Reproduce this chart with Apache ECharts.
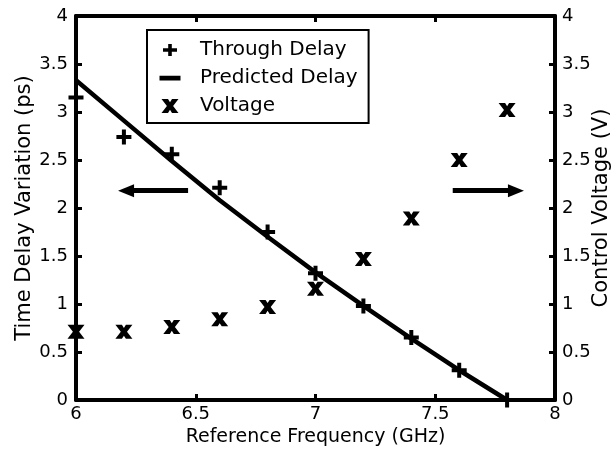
<!DOCTYPE html>
<html>
<head>
<meta charset="utf-8">
<script src="https://cdn.jsdelivr.net/npm/echarts@6/dist/echarts.min.js"></script>
<style>
html,body{margin:0;padding:0;background:#fff;}
#chart{width:616px;height:450px;}
</style>
</head>
<body>
<div id="chart"></div>
<script>
// ---- data ----
const freq = [6.0, 6.2, 6.4, 6.6, 6.8, 7.0, 7.2, 7.4, 7.6, 7.8];
const throughDelay = [3.15, 2.74, 2.56, 2.21, 1.75, 1.32, 0.98, 0.65, 0.31, 0.0];
const predictedDelay = [3.33, 2.91, 2.49, 2.08, 1.70, 1.33, 0.98, 0.64, 0.31, 0.0];
const voltage = [0.71, 0.71, 0.76, 0.84, 0.97, 1.16, 1.47, 1.89, 2.50, 3.02];
const seriesNames = ['Through Delay', 'Predicted Delay', 'Voltage'];
const xTitle = 'Reference Frequency (GHz)';
const yLeftTitle = 'Time Delay Variation (ps)';
const yRightTitle = 'Control Voltage (V)';
// arrow annotations in data coordinates [start, end]
const arrowLeft = [[6.468, 2.18], [6.209, 2.18]];
const arrowRight = [[7.573, 2.18], [7.837, 2.18]];

const pair = (xs, ys) => xs.map((x, i) => [x, ys[i]]);

const FONT = 'DejaVu Sans';
const PLUS = 'path://M5.5,0H9.5V5.5H15V9.5H9.5V15H5.5V9.5H0V5.5H5.5Z';
const CROSS = 'path://M0,0H6.5L8.5,3.2L10.5,0H17L11.6,7L17,14H10.5L8.5,10.8L6.5,14H0L5.4,7Z';
// legend icons in a 22x14 box (tiny corner specks fix the bounding box)
const SPECKS = 'M0,0h0.01v0.01h-0.01Z M21.99,13.99h0.01v0.01h-0.01Z ';
const L_PLUS = 'path://' + SPECKS + 'M9.2,1H12.8V5.2H18V8.8H12.8V13H9.2V8.8H4V5.2H9.2Z';
const L_BAR = 'path://' + SPECKS + 'M0.5,4.8H21.5V9.4H0.5Z';
const L_CROSS = 'path://' + SPECKS + 'M2.5,0H9L11,3.2L13,0H19.5L14.1,7L19.5,14H13L11,10.8L9,14H2.5L7.9,7Z';

const axisLine = {show: true, onZero: false, lineStyle: {color: '#000', width: 4}};
const axisTick = {show: true, inside: true, length: 6, lineStyle: {color: '#000', width: 3}};
const labelStyle = {color: '#000', fontFamily: FONT, fontSize: 18};

const chart = echarts.init(document.getElementById('chart'), null, {renderer: 'canvas'});
chart.setOption({
  animation: false,
  backgroundColor: '#fff',
  grid: {left: 76, right: 61, top: 16, bottom: 50, containLabel: false, outerBoundsMode: 'none'},
  legend: {
    orient: 'vertical',
    left: 147, top: 30,
    padding: [10, 11, 7, 12],
    itemGap: 8,
    itemWidth: 22, itemHeight: 14,
    borderColor: '#000', borderWidth: 2,
    backgroundColor: '#fff',
    selectedMode: false,
    textStyle: {color: '#000', fontFamily: FONT, fontSize: 20, padding: [0, 0, 0, 14]},
    data: [
      {name: seriesNames[0], icon: L_PLUS, itemStyle: {color: '#000', borderWidth: 0}},
      {name: seriesNames[1], icon: L_BAR, itemStyle: {color: '#000', borderWidth: 0}},
      {name: seriesNames[2], icon: L_CROSS, itemStyle: {color: '#000', borderWidth: 0}}
    ]
  },
  xAxis: [
    {
      type: 'value', position: 'bottom', min: 6, max: 8, interval: 0.5,
      axisLine, axisTick, splitLine: {show: false},
      axisLabel: Object.assign({margin: 5}, labelStyle),
      name: xTitle, nameLocation: 'middle', nameGap: 28, nameMoveOverlap: false,
      nameTextStyle: {color: '#000', fontFamily: FONT, fontSize: 19}
    },
    {
      type: 'value', position: 'top', min: 6, max: 8, interval: 0.5,
      axisLine, axisTick, splitLine: {show: false}, axisLabel: {show: false}
    }
  ],
  yAxis: [
    {
      type: 'value', position: 'left', min: 0, max: 4, interval: 0.5,
      axisLine, axisTick, splitLine: {show: false},
      axisLabel: Object.assign({margin: 8}, labelStyle),
      name: yLeftTitle, nameLocation: 'middle', nameGap: 41, nameRotate: 90, nameMoveOverlap: false,
      nameTextStyle: {color: '#000', fontFamily: FONT, fontSize: 21}
    },
    {
      type: 'value', position: 'right', min: 0, max: 4, interval: 0.5,
      axisLine, axisTick, splitLine: {show: false},
      axisLabel: Object.assign({margin: 7}, labelStyle),
      name: yRightTitle, nameLocation: 'middle', nameGap: 36, nameRotate: 90, nameMoveOverlap: false,
      nameTextStyle: {color: '#000', fontFamily: FONT, fontSize: 21}
    }
  ],
  series: [
    {
      name: seriesNames[1], type: 'line', xAxisIndex: 0, yAxisIndex: 0,
      data: pair(freq, predictedDelay),
      showSymbol: false, symbol: 'none', z: 2,
      lineStyle: {color: '#000', width: 4.5},
      itemStyle: {color: '#000'},
      emphasis: {disabled: true}
    },
    {
      name: seriesNames[0], type: 'scatter', xAxisIndex: 0, yAxisIndex: 0,
      data: pair(freq, throughDelay),
      symbol: PLUS, symbolSize: [15, 15], z: 3, clip: false,
      itemStyle: {color: '#000', opacity: 1},
      emphasis: {disabled: true},
      markLine: {
        silent: true, animation: false,
        symbol: ['none', 'triangle'], symbolSize: [13, 16],
        label: {show: false},
        lineStyle: {color: '#000', width: 5, type: 'solid'},
        emphasis: {disabled: true},
        data: [
          [{coord: arrowLeft[0]}, {coord: arrowLeft[1]}],
          [{coord: arrowRight[0]}, {coord: arrowRight[1]}]
        ]
      }
    },
    {
      name: seriesNames[2], type: 'scatter', xAxisIndex: 0, yAxisIndex: 1,
      data: pair(freq, voltage),
      symbol: CROSS, symbolSize: [17, 14], z: 3, clip: false,
      itemStyle: {color: '#000', opacity: 1},
      emphasis: {disabled: true}
    }
  ]
});
</script>
</body>
</html>
